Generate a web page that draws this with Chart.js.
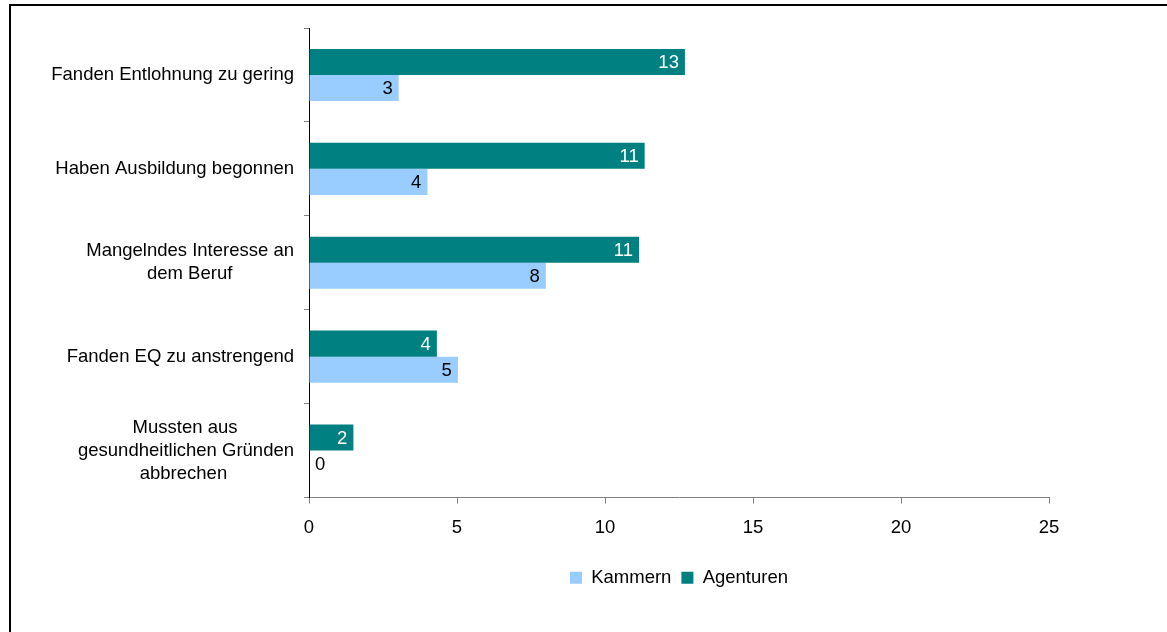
<!DOCTYPE html>
<html>
<head>
<meta charset="utf-8">
<script src="https://cdn.jsdelivr.net/npm/chart.js@4/dist/chart.umd.min.js"></script>
<style>
  html, body { margin: 0; padding: 0; background: #fff; }
  #wrap { position: relative; width: 1167px; height: 632px; overflow: hidden; }
  #frame { position: absolute; left: 9px; top: 4px; width: 1300px; height: 800px;
           border-left: 2px solid #000; border-top: 2px solid #000; }
  canvas { position: absolute; left: 0; top: 0; }
</style>
</head>
<body>
<div id="wrap">
  <div id="frame"></div>
  <canvas id="c" width="1167" height="632"></canvas>
</div>
<script>
const categories = [
  ["Fanden Entlohnung zu gering"],
  ["Haben Ausbildung begonnen"],
  ["Mangelndes Interesse an", "dem Beruf"],
  ["Fanden EQ zu anstrengend"],
  ["Mussten aus", "gesundheitlichen Gründen", "abbrechen"]
];
const agenturen = [12.7, 11.34, 11.15, 4.32, 1.5];
const kammern = [3.03, 4.0, 8.0, 5.03, 0];
const xTicks = [0, 5, 10, 15, 20, 25];

const FONT = "'Liberation Sans', Arial, Helvetica, sans-serif";
const FSIZE = 18.5;
const measureCtx = document.createElement('canvas').getContext('2d');
measureCtx.font = FSIZE + "px " + FONT;

// pad shorter lines of wrapped labels so that right-aligned text appears centred
function centreLines(lines) {
  if (lines.length < 2) return lines[0];
  const w = Math.max(...lines.map(l => measureCtx.measureText(l).width));
  const sp = measureCtx.measureText('\u00a0').width;
  return lines.map(l => {
    const gap = (w - measureCtx.measureText(l).width) / 2;
    return l + '\u00a0'.repeat(Math.round(gap / sp));
  });
}

const valueLabels = {
  id: 'valueLabels',
  afterDatasetsDraw(chart) {
    const ctx = chart.ctx;
    ctx.save();
    ctx.font = FSIZE + "px " + FONT;
    ctx.textBaseline = 'middle';
    chart.data.datasets.forEach((ds, di) => {
      const meta = chart.getDatasetMeta(di);
      meta.data.forEach((bar, i) => {
        const v = ds.data[i];
        const txt = String(Math.round(v));
        ctx.fillStyle = ds.labelColor;
        if (bar.x - bar.base < 20) {
          ctx.textAlign = 'left';
          ctx.fillText(txt, bar.base + 6, bar.y + 1);
        } else {
          ctx.textAlign = 'right';
          ctx.fillText(txt, bar.x - 6, bar.y + 1);
        }
      });
    });
    ctx.restore();
  }
};

new Chart(document.getElementById('c'), {
  type: 'bar',
  data: {
    labels: categories.map(centreLines),
    datasets: [
      { label: 'Agenturen', data: agenturen, backgroundColor: '#008080', labelColor: '#ffffff',
        barPercentage: 1.0, categoryPercentage: 0.555 },
      { label: 'Kammern', data: kammern, backgroundColor: '#99ccff', labelColor: '#000000',
        barPercentage: 1.0, categoryPercentage: 0.555 }
    ]
  },
  options: {
    indexAxis: 'y',
    responsive: false,
    animation: false,
    devicePixelRatio: 1,
    layout: { padding: { left: 0, top: 28, right: 118, bottom: 35 } },
    plugins: {
      legend: {
        position: 'bottom',
        fullSize: false,
        reverse: true,
        labels: {
          font: { family: FONT, size: FSIZE },
          color: '#000',
          boxWidth: 12, boxHeight: 12, padding: 10
        }
      },
      tooltip: { enabled: false }
    },
    scales: {
      x: {
        min: 0, max: 25,
        afterBuildTicks(scale) { scale.ticks = xTicks.map(v => ({ value: v })); },
        afterFit(scale) { scale.height = 61; scale.paddingLeft = 0; scale.paddingRight = 0; },
        grid: { drawOnChartArea: false, drawTicks: true, tickLength: 6, color: '#808080' },
        border: { color: '#808080', width: 1 },
        ticks: { font: { family: FONT, size: FSIZE }, color: '#000', padding: 13, maxRotation: 0 }
      },
      y: {
        afterFit(scale) { scale.width = 309; scale.paddingTop = 0; scale.paddingBottom = 0; },
        grid: { offset: true, drawOnChartArea: false, drawTicks: true, tickLength: 5, color: '#808080' },
        border: { color: '#000', width: 1 },
        ticks: { font: { family: FONT, size: FSIZE, lineHeight: 1.24 }, color: '#000', padding: 10 }
      }
    }
  },
  plugins: [valueLabels]
});
</script>
</body>
</html>
